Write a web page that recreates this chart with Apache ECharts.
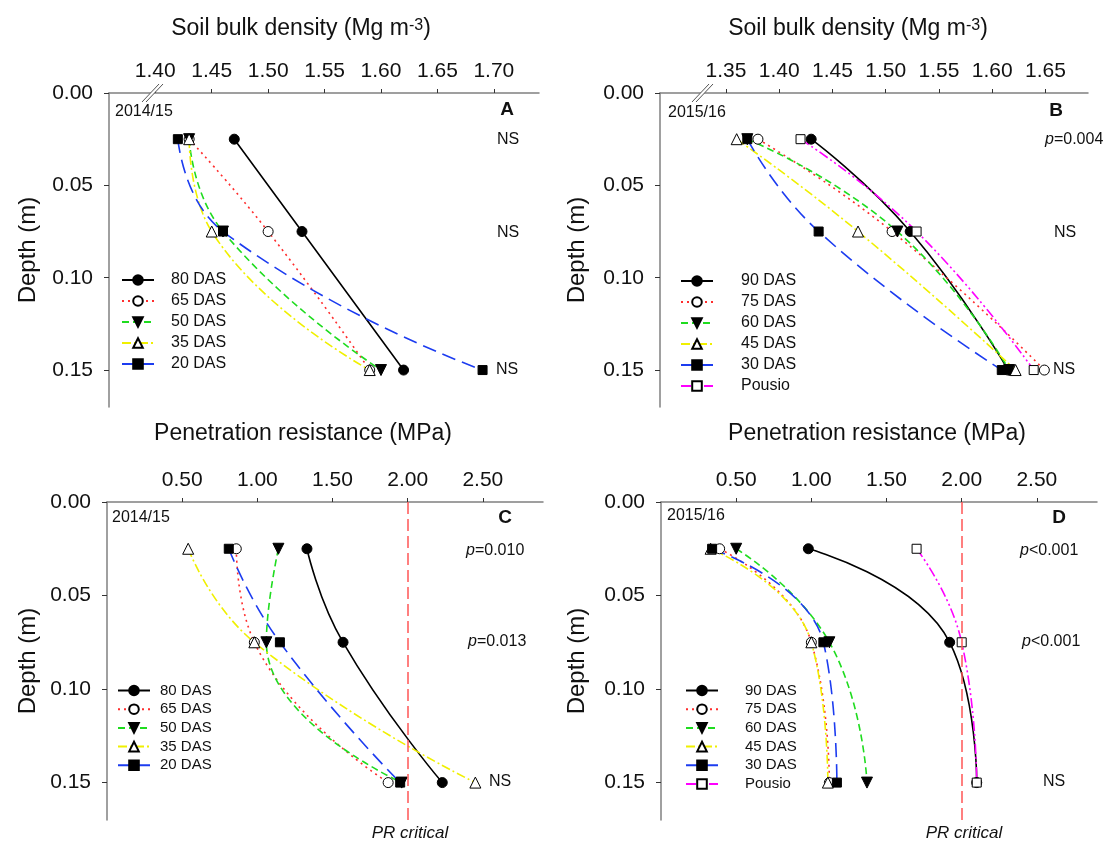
<!DOCTYPE html>
<html><head><meta charset="utf-8">
<script src="https://cdn.jsdelivr.net/npm/echarts@6/dist/echarts.min.js"></script>
<style>html,body{margin:0;padding:0;background:#fff}#c{width:1107px;height:844px}</style>
</head><body><div id="c"></div>
<script>
// ---------- data ----------
const depths = [0.025, 0.075, 0.15];
const depthTicks = [0.00, 0.05, 0.10, 0.15];
const bdTicksA = [1.40, 1.45, 1.50, 1.55, 1.60, 1.65, 1.70];
const bdTicksB = [1.35, 1.40, 1.45, 1.50, 1.55, 1.60, 1.65];
const prTicks = [0.50, 1.00, 1.50, 2.00, 2.50];

const namesA = ['80 DAS', '65 DAS', '50 DAS', '35 DAS', '20 DAS'];
const namesB = ['90 DAS', '75 DAS', '60 DAS', '45 DAS', '30 DAS', 'Pousio'];

// Panel A: bulk density 2014/15
const bdA_80 = [1.47, 1.53, 1.62];
const bdA_65 = [1.43, 1.50, 1.59];
const bdA_50 = [1.43, 1.46, 1.60];
const bdA_35 = [1.43, 1.45, 1.59];
const bdA_20 = [1.42, 1.46, 1.69];
// Panel B: bulk density 2015/16
const bdB_90 = [1.43, 1.523, 1.615];
const bdB_75 = [1.38, 1.506, 1.649];
const bdB_60 = [1.37, 1.511, 1.616];
const bdB_45 = [1.36, 1.474, 1.622];
const bdB_30 = [1.37, 1.437, 1.609];
const bdB_pousio = [1.42, 1.529, 1.639];
// Panel C: penetration resistance 2014/15
const prC_80 = [1.33, 1.57, 2.23];
const prC_65 = [0.86, 0.98, 1.87];
const prC_50 = [1.14, 1.06, 1.96];
const prC_35 = [0.54, 0.98, 2.45];
const prC_20 = [0.81, 1.15, 1.95];
// Panel D: penetration resistance 2015/16
const prD_90 = [0.98, 1.92, 2.10];
const prD_75 = [0.39, 1.00, 1.12];
const prD_60 = [0.50, 1.12, 1.37];
const prD_45 = [0.33, 1.00, 1.11];
const prD_30 = [0.34, 1.08, 1.17];
const prD_pousio = [1.70, 2.00, 2.10];
const prCritical = 2.00;

// ---------- styles ----------
const FONT = "'Liberation Sans', Arial, sans-serif";
const TXT = '#111';
const styles = [
  {color: '#000000', type: 'solid', symbol: 'circle', fill: '#000', rotate: 0, size: 10},
  {color: '#ff2d2d', type: [2, 4], symbol: 'circle', fill: '#fff', rotate: 0, size: 10},
  {color: '#1fdc1f', type: [7, 4], symbol: 'triangle', fill: '#000', rotate: 180, size: 11},
  {color: '#f0f000', type: [9, 3, 2, 3], symbol: 'triangle', fill: '#fff', rotate: 0, size: 11},
  {color: '#1c3cf0', type: [14, 7], symbol: 'rect', fill: '#000', rotate: 0, size: 9},
  {color: '#ff00ff', type: [10, 3, 2, 3, 2, 3], symbol: 'rect', fill: '#fff', rotate: 0, size: 9}
];

function mk(name, vals, si, g) {
  const s = styles[si];
  return {
    type: 'line', name, xAxisIndex: g, yAxisIndex: g, smooth: true,
    data: vals.map((v, i) => [v, depths[i]]),
    symbol: s.symbol, symbolSize: s.size, symbolRotate: s.rotate,
    lineStyle: {color: s.color, width: 1.6, type: s.type},
    itemStyle: {color: s.fill, borderColor: '#000', borderWidth: 1},
    emphasis: {disabled: true}, animation: false
  };
}

const series = [
  mk(namesA[0], bdA_80, 0, 0), mk(namesA[1], bdA_65, 1, 0), mk(namesA[2], bdA_50, 2, 0),
  mk(namesA[3], bdA_35, 3, 0), mk(namesA[4], bdA_20, 4, 0),
  mk(namesB[0], bdB_90, 0, 1), mk(namesB[1], bdB_75, 1, 1), mk(namesB[2], bdB_60, 2, 1),
  mk(namesB[3], bdB_45, 3, 1), mk(namesB[4], bdB_30, 4, 1), mk(namesB[5], bdB_pousio, 5, 1),
  mk(namesA[0], prC_80, 0, 2), mk(namesA[1], prC_65, 1, 2), mk(namesA[2], prC_50, 2, 2),
  mk(namesA[3], prC_35, 3, 2), mk(namesA[4], prC_20, 4, 2),
  mk(namesB[0], prD_90, 0, 3), mk(namesB[1], prD_75, 1, 3), mk(namesB[2], prD_60, 2, 3),
  mk(namesB[3], prD_45, 3, 3), mk(namesB[4], prD_30, 4, 3), mk(namesB[5], prD_pousio, 5, 3)
];
const critLine = {
  silent: true, symbol: 'none', animation: false,
  lineStyle: {color: '#ff5555', type: [12, 5], width: 1.5},
  label: {show: false}, data: [{xAxis: prCritical}]
};
series[11].markLine = critLine;
series[16].markLine = critLine;

const grids = [
  {left: 109, top: 93, width: 430, height: 314},
  {left: 660, top: 93, width: 428, height: 314},
  {left: 107, top: 502, width: 436, height: 318},
  {left: 661, top: 502, width: 436, height: 318}
].map(g => Object.assign({outerBoundsMode: 'none', containLabel: false}, g));

function xAx(g, min, max, ticks) {
  return {
    type: 'value', gridIndex: g, position: 'top', min, max,
    axisLine: {show: true, onZero: false, lineStyle: {color: '#808080', width: 1.5}},
    axisTick: {show: true, length: 4, customValues: ticks, lineStyle: {color: '#333', width: 1}},
    axisLabel: {customValues: ticks, formatter: v => v.toFixed(2), fontSize: 21, color: TXT, fontFamily: FONT, margin: 11},
    splitLine: {show: false}
  };
}
function yAx(g) {
  return {
    type: 'value', gridIndex: g, inverse: true, min: 0, max: 0.17,
    axisLine: {show: true, onZero: false, lineStyle: {color: '#808080', width: 1.5}},
    axisTick: {show: true, length: 5, customValues: depthTicks, lineStyle: {color: '#333', width: 1}},
    axisLabel: {customValues: depthTicks, formatter: v => v.toFixed(2), fontSize: 21, color: TXT, fontFamily: FONT, margin: 16},
    splitLine: {show: false}
  };
}

function legendDef(names, left, top, gap, fs, pad) {
  return {
    data: names, left, top, orient: 'vertical', itemWidth: 32, itemHeight: 12, itemGap: gap,
    selectedMode: false, padding: 0,
    textStyle: {fontSize: fs, lineHeight: fs, color: TXT, fontFamily: FONT, padding: [0, 0, 0, pad]}
  };
}

function t(x, y, text, o) {
  return {type: 'text', x, y, silent: true, z: 100,
    style: Object.assign({text, fill: TXT, fontSize: 16, fontFamily: FONT, align: 'left', verticalAlign: 'middle'}, o || {})};
}
const pRich = {i: {fontStyle: 'italic', fontSize: 16, fontFamily: FONT, fill: TXT}};
const titleRich = {
  a: {fontSize: 23, fontFamily: FONT, fill: TXT},
  s: {fontSize: 16, fontFamily: FONT, fill: TXT, verticalAlign: 'top', lineHeight: 23}
};
function brk(x, y) {
  return [
    {type: 'polygon', silent: true, z: 100, shape: {points: [[x - 10, y + 9], [x + 7, y - 9], [x + 11, y - 9], [x - 6, y + 9]]}, style: {fill: '#fff'}},
    {type: 'line', silent: true, z: 101, shape: {x1: x - 10, y1: y + 9, x2: x + 7, y2: y - 9}, style: {stroke: '#555', lineWidth: 1}},
    {type: 'line', silent: true, z: 101, shape: {x1: x - 6, y1: y + 9, x2: x + 11, y2: y - 9}, style: {stroke: '#555', lineWidth: 1}}
  ];
}

const graphics = [
  t(301, 29, '{a|Soil bulk density (Mg m}{s|-3}{a|)}', {align: 'center', rich: titleRich}),
  t(858, 29, '{a|Soil bulk density (Mg m}{s|-3}{a|)}', {align: 'center', rich: titleRich}),
  t(303, 434, 'Penetration resistance (MPa)', {align: 'center', fontSize: 23}),
  t(877, 434, 'Penetration resistance (MPa)', {align: 'center', fontSize: 23}),
  Object.assign(t(28, 250, 'Depth (m)', {align: 'center', fontSize: 24}), {rotation: Math.PI / 2}),
  Object.assign(t(577, 250, 'Depth (m)', {align: 'center', fontSize: 24}), {rotation: Math.PI / 2}),
  Object.assign(t(28, 661, 'Depth (m)', {align: 'center', fontSize: 24}), {rotation: Math.PI / 2}),
  Object.assign(t(577, 661, 'Depth (m)', {align: 'center', fontSize: 24}), {rotation: Math.PI / 2}),
  // Panel A
  t(115, 112, '2014/15'),
  t(507, 110, 'A', {align: 'center', fontWeight: 'bold', fontSize: 19}),
  t(497, 140, 'NS'), t(497, 233, 'NS'), t(496, 370, 'NS'),
  // Panel B
  t(668, 113, '2015/16'),
  t(1056, 111, 'B', {align: 'center', fontWeight: 'bold', fontSize: 19}),
  t(1045, 140, '{i|p}=0.004', {rich: pRich}),
  t(1054, 233, 'NS'), t(1053, 370, 'NS'),
  // Panel C
  t(112, 518, '2014/15'),
  t(505, 518, 'C', {align: 'center', fontWeight: 'bold', fontSize: 19}),
  t(466, 551, '{i|p}=0.010', {rich: pRich}),
  t(468, 642, '{i|p}=0.013', {rich: pRich}),
  t(489, 782, 'NS'),
  t(410, 833, 'PR critical', {align: 'center', fontStyle: 'italic', fontSize: 17}),
  // Panel D
  t(667, 516, '2015/16'),
  t(1059, 518, 'D', {align: 'center', fontWeight: 'bold', fontSize: 19}),
  t(1020, 551, '{i|p}<0.001', {rich: pRich}),
  t(1022, 642, '{i|p}<0.001', {rich: pRich}),
  t(1043, 782, 'NS'),
  t(964, 833, 'PR critical', {align: 'center', fontStyle: 'italic', fontSize: 17})
].concat(brk(152, 93), brk(702, 93));

const chart = echarts.init(document.getElementById('c'), null, {renderer: 'canvas'});
chart.setOption({
  animation: false,
  backgroundColor: '#fff',
  textStyle: {fontFamily: FONT},
  grid: grids,
  xAxis: [xAx(0, 1.359, 1.74, bdTicksA), xAx(1, 1.288, 1.69, bdTicksB), xAx(2, 0, 2.9, prTicks), xAx(3, 0, 2.9, prTicks)],
  yAxis: [yAx(0), yAx(1), yAx(2), yAx(3)],
  legend: [
    legendDef(namesA, 121, 272, 5, 16, 12),
    legendDef(namesB, 680, 273, 5, 16, 23),
    legendDef(namesA, 117, 683, 3.7, 15, 5),
    legendDef(namesB, 685, 683, 3.7, 15, 22)
  ],
  series,
  graphic: graphics
});
</script></body></html>
